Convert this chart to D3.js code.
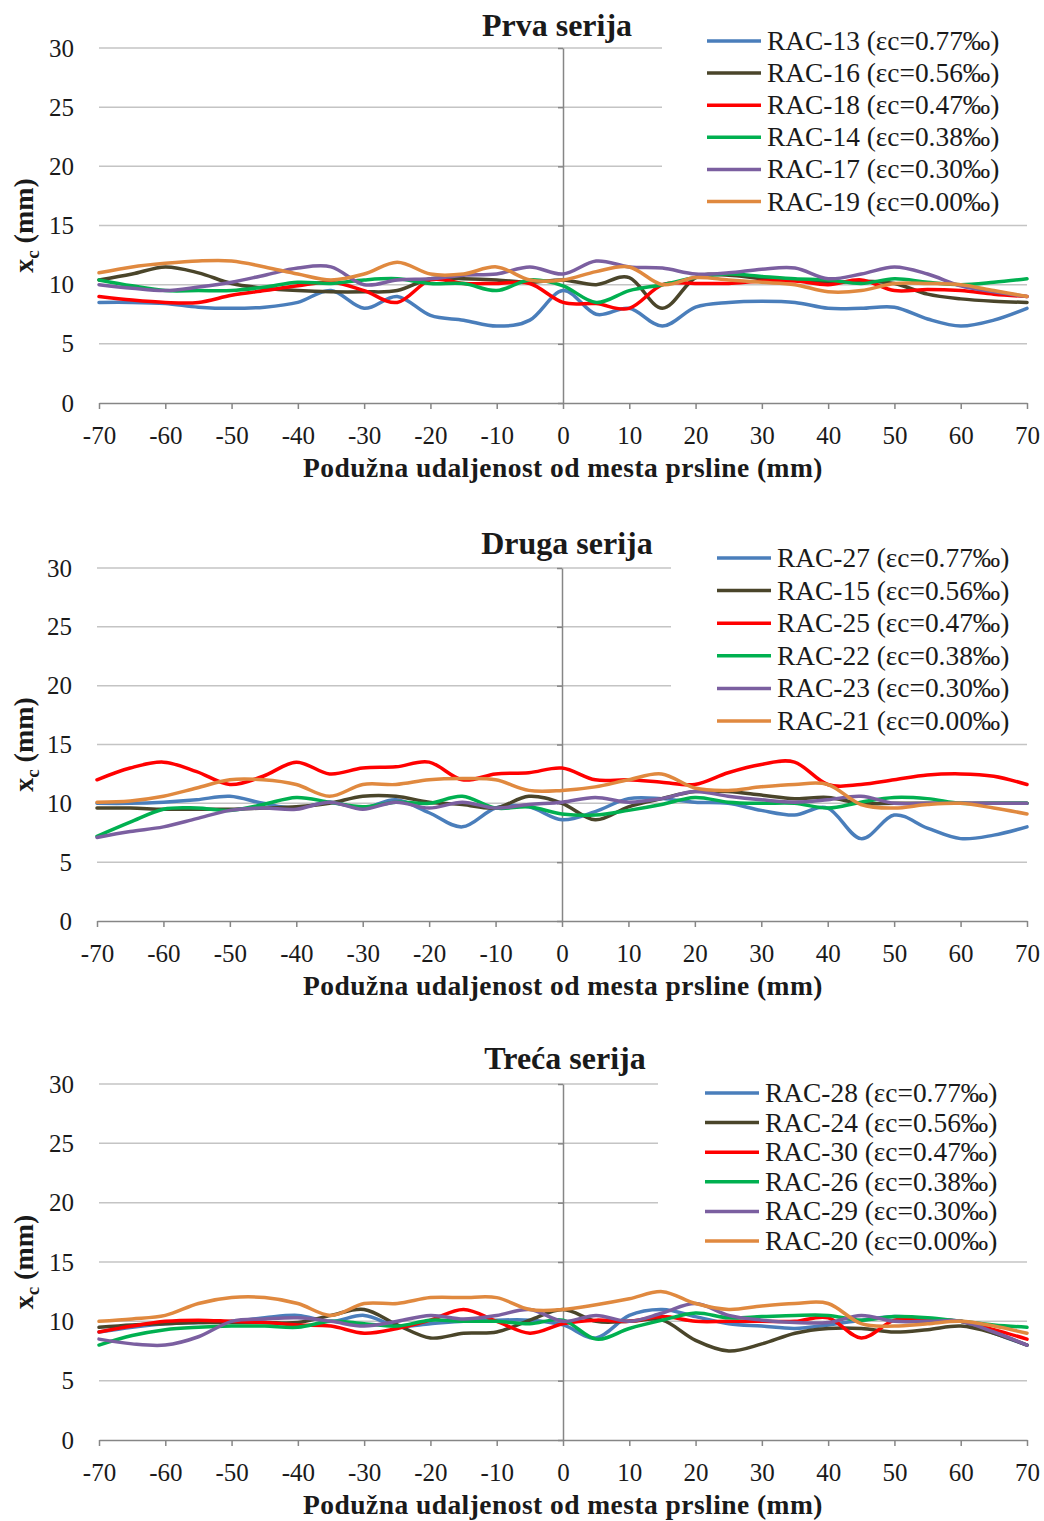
<!DOCTYPE html>
<html>
<head>
<meta charset="utf-8">
<script src="https://cdn.jsdelivr.net/npm/d3@7"></script>
<style>
  html, body { margin: 0; padding: 0; background: #fff; }
  svg { display: block; }
  text { font-family: "Liberation Serif", "Times New Roman", serif; fill: #1a1a1a; }
</style>
</head>
<body>
<svg id="chart" width="1044" height="1521"></svg>
<script>
// Longitudinal distance from the crack (mm)
const distances = [-70, -65, -60, -55, -50, -45, -40, -35, -30, -25, -20, -15, -10, -5, 0,
                   5, 10, 15, 20, 25, 30, 35, 40, 45, 50, 55, 60, 65, 70];

const xTicks = [-70, -60, -50, -40, -30, -20, -10, 0, 10, 20, 30, 40, 50, 60, 70];
const yTicks = [0, 5, 10, 15, 20, 25, 30];

const seriesColors = ["#4a7ebb", "#4a452a", "#ff0000", "#00b050", "#7b5fa0", "#e0893f"];

const titles = ["Prva serija", "Druga serija", "Treća serija"];

// Prva serija
const labels1 = ["RAC-13 (εc=0.77‰)", "RAC-16 (εc=0.56‰)", "RAC-18 (εc=0.47‰)",
                 "RAC-14 (εc=0.38‰)", "RAC-17 (εc=0.30‰)", "RAC-19 (εc=0.00‰)"];
const rac13 = [8.5, 8.5, 8.4, 8.1, 8.0, 8.1, 8.5, 9.5, 8.0, 9.0, 7.4, 7.0, 6.5, 7.0, 9.5,
               7.5, 8.0, 6.5, 8.1, 8.5, 8.6, 8.5, 8.0, 8.0, 8.1, 7.1, 6.5, 7.0, 8.0];
const rac16 = [10.4, 10.9, 11.5, 11.0, 10.1, 9.7, 9.5, 9.4, 9.4, 9.5, 10.5, 10.5, 10.4, 10.2, 10.4,
               10.0, 10.6, 8.0, 10.6, 10.8, 10.5, 10.4, 10.2, 10.3, 10.1, 9.2, 8.8, 8.6, 8.5];
const rac18 = [9.0, 8.7, 8.5, 8.5, 9.1, 9.5, 9.9, 10.2, 9.5, 8.5, 10.4, 10.1, 10.1, 10.1, 8.5,
               8.4, 8.0, 10.0, 10.1, 10.1, 10.3, 10.3, 10.0, 10.4, 9.5, 9.6, 9.5, 9.2, 9.0];
const rac14 = [10.4, 9.9, 9.5, 9.5, 9.5, 9.8, 10.2, 10.1, 10.4, 10.5, 10.1, 10.1, 9.5, 10.4, 9.9,
               8.5, 9.5, 10.0, 10.6, 10.9, 10.7, 10.5, 10.4, 10.1, 10.5, 10.2, 10.0, 10.2, 10.5];
const rac17 = [10.0, 9.7, 9.5, 9.8, 10.2, 10.8, 11.4, 11.5, 10.0, 10.4, 10.5, 10.8, 10.9, 11.5, 10.9,
               12.0, 11.5, 11.4, 10.9, 11.0, 11.3, 11.4, 10.5, 10.9, 11.5, 10.9, 9.9, 9.4, 9.0];
const rac19 = [11.0, 11.5, 11.8, 12.0, 12.0, 11.5, 10.9, 10.4, 10.9, 11.9, 10.9, 10.9, 11.5, 10.4, 10.4,
               11.1, 11.5, 10.0, 10.6, 10.4, 10.2, 10.0, 9.4, 9.5, 10.1, 10.1, 10.0, 9.5, 9.0];

// Druga serija
const labels2 = ["RAC-27 (εc=0.77‰)", "RAC-15 (εc=0.56‰)", "RAC-25 (εc=0.47‰)",
                 "RAC-22 (εc=0.38‰)", "RAC-23 (εc=0.30‰)", "RAC-21 (εc=0.00‰)"];
const rac27 = [10.0, 10.0, 10.1, 10.3, 10.6, 10.0, 9.6, 10.1, 9.6, 10.3, 9.2, 8.0, 9.6, 9.7, 8.6,
               9.3, 10.4, 10.4, 10.1, 10.0, 9.4, 9.0, 9.6, 7.0, 9.0, 7.9, 7.0, 7.3, 8.0];
const rac15 = [9.6, 9.6, 9.5, 9.5, 9.5, 9.6, 9.7, 10.0, 10.6, 10.6, 10.1, 9.9, 9.6, 10.6, 10.0,
               8.6, 9.7, 10.4, 11.0, 11.0, 10.7, 10.4, 10.5, 10.0, 10.0, 10.0, 10.0, 10.0, 10.0];
const rac25 = [12.0, 13.0, 13.5, 12.7, 11.6, 12.3, 13.5, 12.5, 13.0, 13.1, 13.5, 12.0, 12.5, 12.6, 13.0,
               12.0, 12.0, 11.8, 11.6, 12.6, 13.3, 13.5, 11.6, 11.6, 12.0, 12.4, 12.5, 12.3, 11.6];
const rac22 = [7.2, 8.4, 9.5, 9.6, 9.4, 9.9, 10.5, 10.1, 9.7, 10.1, 10.0, 10.6, 9.6, 9.7, 9.1,
               9.0, 9.4, 9.9, 10.5, 10.1, 10.0, 10.0, 9.6, 10.1, 10.5, 10.4, 10.0, 10.0, 10.0];
const rac23 = [7.1, 7.6, 8.0, 8.7, 9.4, 9.6, 9.5, 10.1, 9.5, 10.1, 9.6, 10.1, 9.6, 9.9, 10.1,
               10.5, 10.1, 10.4, 11.0, 10.6, 10.3, 10.1, 10.3, 10.6, 10.0, 10.0, 10.0, 10.0, 10.0];
const rac21 = [10.1, 10.2, 10.6, 11.3, 12.0, 12.0, 11.6, 10.6, 11.6, 11.6, 12.0, 12.1, 12.0, 11.1, 11.1,
               11.4, 12.0, 12.5, 11.3, 11.1, 11.4, 11.6, 11.6, 9.9, 9.6, 9.9, 10.0, 9.6, 9.1];

// Treća serija
const labels3 = ["RAC-28 (εc=0.77‰)", "RAC-24 (εc=0.56‰)", "RAC-30 (εc=0.47‰)",
                 "RAC-26 (εc=0.38‰)", "RAC-29 (εc=0.30‰)", "RAC-20 (εc=0.00‰)"];
const rac28 = [9.1, 9.5, 9.8, 9.9, 10.0, 10.3, 10.5, 10.0, 10.5, 9.6, 9.8, 10.0, 10.1, 10.1, 9.7,
               8.6, 10.5, 11.0, 10.4, 9.8, 9.6, 9.4, 9.7, 10.1, 10.4, 10.2, 10.0, 9.0, 8.0];
const rac24 = [9.5, 9.7, 9.8, 9.9, 9.9, 9.9, 9.9, 10.5, 11.0, 9.7, 8.6, 9.0, 9.1, 10.1, 11.0,
               10.0, 10.0, 10.1, 8.4, 7.5, 8.1, 9.0, 9.4, 9.4, 9.1, 9.3, 9.6, 9.0, 8.0];
const rac30 = [9.1, 9.6, 10.0, 10.1, 10.0, 9.9, 9.7, 9.6, 9.0, 9.4, 10.1, 11.0, 10.0, 9.0, 9.8,
               10.1, 10.0, 10.4, 10.0, 10.0, 10.0, 10.0, 10.3, 8.6, 10.1, 10.1, 10.0, 9.3, 8.5];
const rac26 = [8.0, 8.8, 9.3, 9.5, 9.6, 9.6, 9.5, 10.0, 9.8, 9.6, 10.1, 10.0, 10.0, 9.8, 10.1,
               8.5, 9.4, 10.1, 10.7, 10.3, 10.4, 10.5, 10.5, 10.1, 10.4, 10.3, 10.0, 9.7, 9.5];
const rac29 = [8.5, 8.1, 8.0, 8.7, 10.0, 10.2, 10.3, 10.0, 9.6, 10.0, 10.5, 10.2, 10.5, 11.0, 10.0,
               10.5, 10.0, 10.7, 11.5, 10.5, 10.1, 9.9, 9.9, 10.5, 10.0, 10.0, 10.0, 9.1, 8.0];
const rac20 = [10.0, 10.2, 10.5, 11.5, 12.0, 12.0, 11.5, 10.5, 11.5, 11.5, 12.0, 12.0, 12.0, 11.0, 11.0,
               11.4, 11.9, 12.5, 11.5, 11.0, 11.3, 11.5, 11.5, 9.8, 9.6, 9.8, 10.0, 9.6, 9.0];

const xTitle = "Podužna udaljenost od mesta prsline (mm)";

// Panel layout: plot box, title anchor and legend block
const panels = [
  { title: titles[0], labels: labels1, series: [rac13, rac16, rac18, rac14, rac17, rac19],
    x0: 99, x1: 1027, top: 48, bottom: 403, titleX: 557, titleY: 36,
    legLeft: 662, legLine: 707, legTop: 41, legStep: 32.1 },
  { title: titles[1], labels: labels2, series: [rac27, rac15, rac25, rac22, rac23, rac21],
    x0: 97, x1: 1027, top: 568, bottom: 921, titleX: 567, titleY: 554,
    legLeft: 671, legLine: 717, legTop: 558, legStep: 32.6 },
  { title: titles[2], labels: labels3, series: [rac28, rac24, rac30, rac26, rac29, rac20],
    x0: 99, x1: 1027, top: 1084, bottom: 1440, titleX: 565, titleY: 1069,
    legLeft: 658, legLine: 705, legTop: 1093, legStep: 29.6 }
];

const svg = d3.select("#chart");
const gridColor = "#c4c4c4";
const axisColor = "#868686";
const plainNumber = d => String(d);

panels.forEach(p => {
  const g = svg.append("g");
  const x = d3.scaleLinear().domain([-70, 70]).range([p.x0, p.x1]);
  const y = d3.scaleLinear().domain([0, 30]).range([p.bottom, p.top]);

  // horizontal gridlines
  g.append("g").selectAll("line").data(yTicks.filter(t => t > 0)).join("line")
    .attr("x1", p.x0).attr("x2", p.x1)
    .attr("y1", d => y(d)).attr("y2", d => y(d))
    .attr("stroke", gridColor).attr("stroke-width", 1.5);

  // legend background hides the gridlines behind it
  const legBottom = p.legTop + p.legStep * (p.labels.length - 1) + 16;
  g.append("rect")
    .attr("x", p.legLeft).attr("y", p.legTop - 18)
    .attr("width", 1044 - p.legLeft).attr("height", legBottom - p.legTop + 18)
    .attr("fill", "#fff");

  // y tick labels on the left edge
  const yLab = g.append("g").attr("transform", `translate(${p.x0},0)`)
    .call(d3.axisLeft(y).tickValues(yTicks).tickSize(0).tickPadding(25).tickFormat(plainNumber));
  yLab.select(".domain").remove();
  yLab.selectAll("text").attr("font-size", 25).attr("font-family", "Liberation Serif").attr("fill", "#1a1a1a");

  // vertical axis through x = 0
  const vAxis = g.append("g").attr("transform", `translate(${x(0)},0)`)
    .call(d3.axisLeft(y).tickValues(yTicks).tickSize(5).tickSizeOuter(0).tickFormat(""));
  vAxis.select(".domain").attr("stroke", axisColor).attr("stroke-width", 1.5);
  vAxis.selectAll(".tick line").attr("stroke", axisColor).attr("stroke-width", 1.5);

  // horizontal axis at y = 0
  const xAxis = g.append("g").attr("transform", `translate(0,${p.bottom})`)
    .call(d3.axisBottom(x).tickValues(xTicks).tickSize(6).tickSizeOuter(0).tickPadding(17)
      .tickFormat(plainNumber));
  xAxis.select(".domain").attr("stroke", axisColor).attr("stroke-width", 1.5);
  xAxis.selectAll(".tick line").attr("stroke", axisColor).attr("stroke-width", 1.5);
  xAxis.selectAll("text").attr("font-size", 25).attr("font-family", "Liberation Serif").attr("fill", "#1a1a1a");

  // series
  const line = d3.line()
    .x((d, i) => x(distances[i]))
    .y(d => y(d))
    .curve(d3.curveCatmullRom.alpha(0));
  g.append("g").selectAll("path").data(p.series).join("path")
    .attr("d", d => line(d))
    .attr("fill", "none")
    .attr("stroke", (d, i) => seriesColors[i])
    .attr("stroke-width", 3.5)
    .attr("stroke-linejoin", "round")
    .attr("stroke-linecap", "round");

  // title
  g.append("text").attr("x", p.titleX).attr("y", p.titleY)
    .attr("text-anchor", "middle").attr("font-weight", "bold").attr("font-size", 32)
    .text(p.title);

  // x axis title
  g.append("text").attr("x", 563).attr("y", p.bottom + 74)
    .attr("text-anchor", "middle").attr("font-weight", "bold").attr("font-size", 27.5)
    .attr("letter-spacing", 0.45)
    .text(xTitle);

  // y axis title with subscript
  const yt = g.append("text")
    .attr("transform", `translate(33,${(p.top + p.bottom) / 2}) rotate(-90)`)
    .attr("text-anchor", "middle").attr("font-weight", "bold").attr("font-size", 28);
  yt.append("tspan").text("x");
  yt.append("tspan").attr("font-size", 19).attr("dy", 6).text("c");
  yt.append("tspan").attr("dy", -6).text(" (mm)");

  // legend
  const leg = g.append("g");
  p.labels.forEach((lab, i) => {
    const cy = p.legTop + i * p.legStep;
    leg.append("line")
      .attr("x1", p.legLine).attr("x2", p.legLine + 54)
      .attr("y1", cy).attr("y2", cy)
      .attr("stroke", seriesColors[i]).attr("stroke-width", 3.5);
    leg.append("text").attr("x", p.legLine + 60).attr("y", cy + 9)
      .attr("font-size", 27.4).text(lab);
  });
});
</script>
</body>
</html>
